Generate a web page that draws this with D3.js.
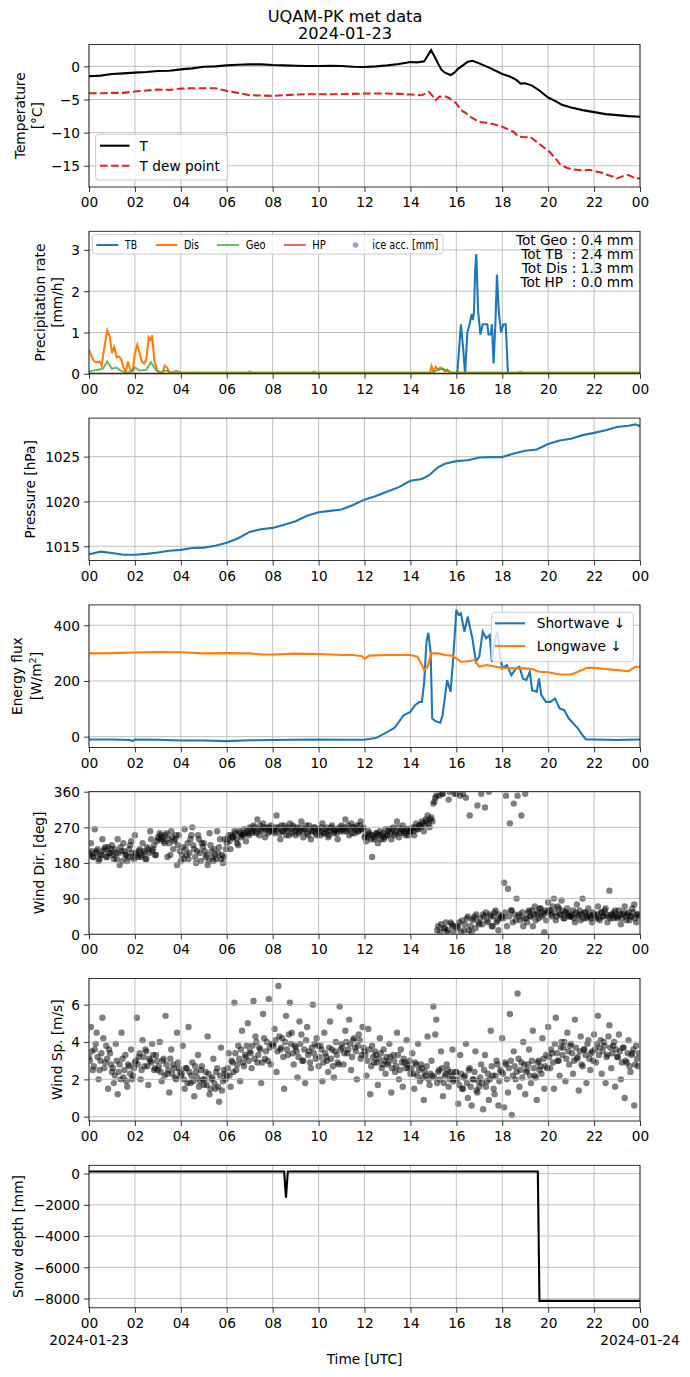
<!DOCTYPE html>
<html>
<head>
<meta charset="utf-8">
<script src="https://cdn.jsdelivr.net/npm/d3@7"></script>
<style>
  body { margin: 0; background: #fff; }
  svg { font-family: "DejaVu Sans", sans-serif; }
</style>
</head>
<body>
<svg width="690" height="1377"></svg>
<script>
// ---- données (heure UTC, valeur) ----
const tAir = [[0,-1.5],[0.5,-1.4],[1,-1.15],[1.5,-1.05],[2,-0.95],[2.5,-0.85],[3,-0.7],[3.5,-0.65],[4,-0.45],[4.5,-0.3],[5,-0.05],[5.5,0.0],[6,0.15],[6.5,0.25],[7,0.3],[7.5,0.3],[8,0.2],[8.5,0.15],[9,0.1],[9.5,0.05],[10,0.05],[10.5,0.1],[11,0.05],[11.5,-0.05],[12,-0.1],[12.5,0.0],[13,0.15],[13.5,0.35],[14,0.65],[14.3,0.6],[14.6,0.75],[14.75,1.6],[14.9,2.45],[15.05,1.5],[15.2,0.45],[15.35,-0.5],[15.5,-0.95],[15.75,-1.3],[15.9,-1.0],[16.1,-0.3],[16.3,0.2],[16.5,0.7],[16.7,0.85],[17,0.45],[17.5,-0.3],[18,-1.15],[18.3,-1.5],[18.6,-2.0],[18.8,-2.6],[19,-2.55],[19.3,-2.9],[19.6,-3.6],[20,-4.7],[20.3,-5.2],[20.6,-5.8],[21,-6.2],[21.5,-6.6],[22,-6.9],[22.5,-7.2],[23,-7.35],[23.5,-7.5],[24,-7.6]];
const tDew = [[0,-4.05],[0.5,-4.05],[1,-4.0],[1.5,-4.0],[2,-3.8],[2.5,-3.65],[3,-3.5],[3.5,-3.55],[4,-3.35],[4.5,-3.3],[5,-3.3],[5.5,-3.3],[6,-3.7],[6.5,-4.0],[7,-4.35],[7.5,-4.4],[8,-4.45],[8.5,-4.35],[9,-4.25],[9.5,-4.2],[10,-4.2],[11,-4.2],[12,-4.1],[13,-4.1],[13.5,-4.15],[14,-4.25],[14.5,-4.35],[14.8,-3.85],[15,-4.6],[15.1,-5.1],[15.25,-4.6],[15.5,-4.5],[15.7,-4.8],[16,-5.6],[16.2,-6.6],[16.4,-7.0],[16.6,-7.6],[16.8,-8.0],[17,-8.4],[17.3,-8.5],[17.6,-8.7],[18,-9.1],[18.5,-9.9],[18.7,-10.6],[19,-10.7],[19.2,-10.6],[19.5,-11.4],[19.8,-12.2],[20,-12.7],[20.3,-13.8],[20.5,-14.7],[20.8,-15.3],[21,-15.5],[21.5,-15.7],[21.8,-15.6],[22,-15.8],[22.3,-16.0],[22.5,-16.3],[22.8,-16.6],[23,-16.9],[23.3,-16.5],[23.5,-16.4],[23.8,-16.9],[24,-16.9]];

const tbRate = [[0,0],[16.04,0],[16.2,1.2],[16.3,0.6],[16.38,0],[16.48,1.0],[16.58,1.2],[16.67,1.45],[16.72,1.3],[16.77,1.5],[16.82,2.5],[16.87,2.9],[16.95,1.5],[17.05,0.95],[17.15,1.2],[17.25,1.2],[17.35,1.2],[17.4,0.95],[17.5,0.95],[17.55,1.2],[17.62,0.25],[17.7,1.2],[17.77,2.4],[17.85,1.5],[17.95,1.0],[18.05,1.2],[18.15,1.2],[18.25,0],[24,0]];
const disRate = [[0,0.58],[0.1,0.45],[0.2,0.32],[0.3,0.28],[0.45,0.3],[0.55,0.2],[0.7,0.75],[0.8,1.05],[0.9,0.9],[1.0,0.5],[1.1,0.65],[1.2,0.4],[1.3,0.42],[1.4,0.35],[1.5,0.15],[1.6,0.05],[1.7,0.3],[1.8,0.1],[1.9,0.05],[2.0,0.5],[2.1,0.7],[2.2,0.5],[2.3,0.3],[2.4,0.25],[2.5,0.35],[2.6,0.88],[2.68,0.82],[2.75,0.93],[2.85,0.3],[3.0,0.05],[3.2,0.02],[3.3,0.2],[3.4,0.15],[3.5,0.02],[14.85,0.02],[14.92,0.18],[15.0,0.05],[15.1,0.17],[15.2,0.1],[15.3,0.15],[15.4,0.12],[15.5,0.05],[15.6,0.1],[15.7,0.02],[24,0.02]];
const geoRate = [[0,0.05],[0.2,0.08],[0.4,0.1],[0.6,0.12],[0.8,0.3],[1.0,0.12],[1.2,0.15],[1.4,0.07],[1.6,0.02],[1.8,0.05],[2.0,0.15],[2.2,0.08],[2.5,0.1],[2.7,0.28],[2.9,0.1],[3.1,0.02],[3.3,0.08],[3.6,0.04],[3.8,0.07],[4.0,0.03],[6.9,0.03],[7.0,0.06],[7.1,0.03],[9.7,0.03],[9.8,0.06],[9.9,0.03],[15.0,0.03],[15.2,0.1],[15.4,0.12],[15.6,0.08],[15.8,0.03],[18.7,0.03],[18.8,0.05],[18.9,0.03],[24,0.03]];
const hpRate = [[0,0],[24,0]];
const precipTotals = ["Tot Geo : 0.4 mm", "Tot TB  : 2.4 mm", "Tot Dis : 1.3 mm", "Tot HP  : 0.0 mm"];

const pressure = [[0,1014.1],[0.5,1014.4],[1,1014.25],[1.5,1014.05],[2,1014.05],[2.5,1014.15],[3,1014.3],[3.5,1014.5],[4,1014.6],[4.5,1014.8],[5,1014.85],[5.5,1015.05],[6,1015.4],[6.5,1015.9],[7,1016.6],[7.5,1016.9],[8,1017.05],[8.5,1017.4],[9,1017.8],[9.5,1018.4],[10,1018.8],[10.5,1018.95],[11,1019.1],[11.5,1019.6],[12,1020.2],[12.5,1020.6],[13,1021.1],[13.5,1021.6],[14,1022.3],[14.5,1022.5],[14.8,1022.9],[15.2,1023.8],[15.5,1024.2],[16,1024.5],[16.5,1024.6],[17,1024.9],[17.5,1024.95],[18,1024.95],[18.5,1025.35],[19,1025.65],[19.5,1025.8],[20,1026.4],[20.5,1026.8],[21,1027.0],[21.5,1027.4],[22,1027.65],[22.5,1027.95],[23,1028.3],[23.5,1028.45],[23.8,1028.6],[24,1028.4]];

const shortwave = [[0,-10],[1,-10],[1.8,-12],[1.9,-16],[2,-10],[3,-11],[4,-14],[5,-14],[6,-16],[7,-13],[8,-12],[9,-11],[10,-10],[11,-11],[12,-11],[12.5,-5],[13,17],[13.3,31],[13.5,53],[13.7,77],[14,89],[14.2,113],[14.4,125],[14.5,125],[14.6,197],[14.7,341],[14.78,373],[14.88,305],[14.95,65],[15.1,55],[15.3,50],[15.4,77],[15.6,203],[15.75,161],[15.85,267],[15.95,389],[16.0,455],[16.1,437],[16.2,443],[16.35,377],[16.5,431],[16.6,389],[16.7,353],[16.85,269],[17.0,287],[17.15,377],[17.3,353],[17.45,365],[17.55,269],[17.7,353],[17.8,377],[17.9,293],[18.0,245],[18.2,257],[18.4,221],[18.6,245],[18.75,251],[18.9,209],[19.05,203],[19.2,233],[19.3,167],[19.5,161],[19.6,209],[19.7,149],[19.9,125],[20.1,125],[20.3,137],[20.5,101],[20.7,95],[20.9,65],[21.1,47],[21.3,29],[21.5,5],[21.65,-10],[22,-10],[23,-12],[24,-10]];
const longwave = [[0,299],[1,300],[2,302],[3,304],[4,303],[5,299],[6,300],[7,299],[7.5,295],[8,295],[9,298],[10,297],[11,293],[11.5,293],[11.9,289],[12.0,279],[12.2,291],[13,293],[14,293],[14.3,287],[14.5,257],[14.6,239],[14.75,251],[14.9,299],[15.2,299],[15.5,293],[15.8,291],[16.0,281],[16.2,269],[16.5,271],[16.8,275],[17.0,251],[17.3,257],[17.6,253],[18,247],[18.5,245],[19,245],[19.3,243],[19.6,233],[20,231],[20.5,223],[21,223],[21.3,233],[21.7,247],[22,247],[22.5,243],[23,239],[23.5,235],[23.8,251],[24,251]];

// vent : 12 mesures par heure, deux séries décalées de 2.5 min
const windDir = [
  205,230,195,265,210,185,200,240,215,195,220,205,
  225,190,205,240,175,210,230,200,185,215,235,195,
  250,200,210,195,230,205,190,215,260,210,225,200,
  245,255,240,235,250,195,230,260,215,240,175,250,
  185,220,265,200,190,240,270,215,180,250,205,230,
  230,195,175,255,210,185,200,260,220,190,180,240,
  230,250,215,245,260,240,225,255,250,265,235,255,
  270,255,275,260,290,250,265,280,245,270,260,275,
  265,255,300,270,240,260,275,250,265,280,255,270,
  250,270,260,285,245,265,255,275,240,260,270,250,
  265,250,280,255,270,245,260,275,255,265,240,270,
  275,260,290,265,250,280,270,255,275,260,285,265,
  245,235,260,250,195,240,255,230,260,250,240,265,
  250,265,240,270,255,285,245,260,275,255,265,250,
  260,270,250,280,265,275,285,260,290,300,270,295,
  330,345,10,350,25,355,15,5,340,30,20,355,
  355,20,350,35,10,345,45,300,5,40,15,325,
  25,355,50,320,35,360,45,20,55,30,10,40,
  45,130,350,115,280,60,330,35,350,50,300,20,
  355,30,60,45,20,70,50,40,65,55,5,35,
  80,60,45,90,35,70,50,85,40,55,65,45,
  45,60,30,75,50,35,90,55,40,65,45,30,
  50,40,70,35,55,45,65,30,110,50,40,60,
  40,60,25,50,70,35,55,45,65,75,30,50
];
const windDir2 = [
  200,210,195,205,215,190,200,210,220,195,205,215,
  200,215,190,205,220,185,210,200,195,225,205,190,
  205,195,215,200,210,190,220,205,240,215,200,235,
  240,250,245,230,255,240,200,245,235,250,225,210,
  200,190,215,230,205,250,225,195,210,240,185,220,
  210,200,185,225,195,215,190,205,240,200,195,215,
  240,235,250,245,255,230,260,245,250,255,260,250,
  265,260,270,255,265,275,260,270,265,255,270,260,
  260,270,265,255,275,260,265,270,250,265,275,260,
  265,255,270,260,265,275,250,265,260,270,255,265,
  260,270,255,265,260,250,270,265,260,255,265,260,
  265,270,260,275,265,255,270,265,260,275,265,270,
  250,245,255,240,250,245,255,250,240,255,245,250,
  260,255,265,250,260,270,255,265,260,250,265,260,
  265,260,270,265,275,270,280,275,285,280,290,285,
  335,350,20,5,355,15,30,10,360,25,5,20,
  15,30,5,355,25,40,10,20,35,45,50,30,
  40,25,45,55,30,50,20,45,60,35,50,45,
  40,55,20,45,60,30,50,90,45,35,55,40,
  40,55,45,60,50,35,55,65,45,50,60,55,
  60,50,70,55,45,65,50,60,40,55,50,45,
  50,40,55,45,60,50,40,55,45,50,40,55,
  45,50,40,55,45,60,50,45,40,50,55,45,
  45,50,40,55,45,50,35,45,55,40,50,45
];
const windSpeed = [
  3.2,4.8,2.5,3.6,4.5,2.0,3.0,5.3,2.6,3.8,1.5,3.4,
  2.4,1.8,3.9,1.2,2.8,4.5,2.1,3.3,1.6,2.7,3.6,2.2,
  2.9,5.3,3.2,2.0,4.1,2.7,3.5,1.7,3.0,3.9,2.5,3.3,
  2.5,4.0,1.9,3.1,5.4,2.3,1.3,3.6,2.8,2.1,4.5,2.6,
  2.2,3.8,1.5,2.6,4.8,1.8,2.9,1.1,2.4,3.3,1.9,2.7,
  1.7,2.4,4.3,1.2,2.0,3.1,1.5,2.6,0.8,3.7,1.9,2.3,
  2.2,3.4,1.6,2.9,6.1,2.5,3.8,1.9,4.6,2.7,3.2,5.0,
  3.5,2.6,6.2,4.3,2.9,3.7,1.8,5.5,3.1,4.0,6.3,2.8,
  3.9,4.7,2.4,7.0,3.6,4.2,1.5,5.4,3.3,6.1,4.5,2.8,
  3.7,2.1,5.1,4.4,3.0,1.8,4.8,3.5,2.6,6.0,3.9,4.2,
  2.7,3.8,1.9,4.5,3.2,2.4,5.1,3.6,2.1,4.0,2.9,5.9,
  3.9,2.8,4.6,3.4,5.2,2.5,4.1,3.7,2.0,4.4,3.1,4.8,
  3.5,2.2,4.7,1.2,3.8,2.9,3.3,1.7,4.2,2.6,3.6,2.3,
  2.8,3.9,1.3,3.3,2.4,4.5,2.0,3.6,1.6,2.9,4.1,2.6,
  2.3,3.4,1.5,2.8,3.9,1.9,2.6,0.9,2.2,4.3,1.7,3.0,
  5.9,4.4,1.8,2.5,3.5,1.1,2.2,2.8,1.6,2.4,3.6,2.0,
  2.4,0.7,3.3,1.5,2.1,3.9,1.0,2.6,0.6,2.0,3.5,1.3,
  1.6,2.8,0.4,3.3,1.9,0.9,4.6,2.2,1.2,3.0,0.6,2.5,
  4.2,0.5,2.8,1.3,5.5,0.1,3.5,2.0,6.6,1.6,2.9,4.0,
  1.2,2.5,3.6,1.8,4.6,2.2,0.9,3.0,2.7,4.2,1.5,3.3,
  4.8,2.6,3.4,1.5,5.3,3.0,2.2,4.0,3.7,1.9,4.5,2.8,
  3.9,2.3,5.2,3.1,1.4,4.3,2.7,3.6,1.8,4.1,2.5,3.5,
  4.4,2.9,5.4,3.7,2.3,4.0,1.8,3.3,4.9,2.6,3.8,1.6,
  3.2,4.4,2.0,3.7,1.0,2.9,4.1,2.4,3.4,0.6,3.8,2.7
];
const windSpeed2 = [
  3.0,3.5,2.7,3.9,3.2,2.5,3.4,4.2,2.9,3.1,3.6,2.8,
  2.6,2.2,3.0,2.4,2.0,3.1,2.5,1.9,2.8,2.3,2.0,2.6,
  3.0,2.8,3.4,2.5,3.2,3.6,2.7,3.1,2.9,3.3,2.6,3.0,
  2.7,2.4,3.0,2.2,2.8,2.5,3.1,2.3,2.6,2.0,2.9,2.4,
  2.3,2.0,2.6,1.8,2.4,2.2,1.9,2.7,2.1,1.6,2.5,2.0,
  2.0,1.7,2.3,1.5,2.1,1.8,2.4,1.6,2.2,1.4,2.5,2.0,
  2.6,2.2,3.0,2.4,3.4,2.8,3.1,3.6,2.9,3.3,3.8,3.0,
  3.4,3.8,3.1,4.0,3.3,3.6,2.9,4.2,3.5,3.0,3.7,3.9,
  3.8,4.1,3.5,4.3,3.7,3.2,4.0,3.6,4.4,3.9,3.4,3.8,
  3.5,3.2,3.9,3.0,3.6,4.1,3.3,2.9,3.7,3.4,3.1,3.8,
  3.2,3.6,2.9,3.4,3.0,3.7,3.1,2.7,3.5,3.3,2.8,3.6,
  3.7,3.4,4.0,3.6,3.9,3.2,4.2,3.5,3.8,4.1,3.3,3.7,
  3.3,3.0,3.6,2.7,3.2,3.5,2.9,3.1,3.4,2.8,3.0,3.2,
  2.9,3.2,2.6,3.0,2.7,3.3,2.5,2.9,3.1,2.6,2.8,3.0,
  2.6,2.3,2.9,2.2,2.5,2.8,2.1,2.4,2.7,2.0,2.3,2.2,
  2.1,5.2,2.4,2.0,2.6,1.8,2.3,2.5,2.0,2.2,1.9,2.4,
  2.0,1.7,2.3,1.5,2.2,1.8,2.5,1.6,2.0,2.4,1.4,1.9,
  2.1,1.8,2.5,1.6,2.3,2.0,2.7,1.5,2.2,2.8,1.9,2.4,
  2.3,2.9,2.0,2.6,3.0,2.2,2.7,2.4,3.1,2.5,2.1,2.8,
  2.4,2.8,2.2,3.0,2.6,2.1,2.9,2.5,2.3,3.1,2.7,2.6,
  3.2,3.6,2.9,3.9,3.4,3.0,3.7,3.3,4.0,3.1,3.5,3.8,
  3.4,3.0,3.7,3.2,3.5,2.8,3.6,3.3,3.9,3.1,3.4,3.0,
  3.6,3.9,3.3,4.1,3.5,3.8,3.2,4.3,3.7,3.4,4.0,3.6,
  3.2,3.5,2.9,3.7,3.0,3.4,2.7,3.3,3.6,2.8,3.1,3.4
];

const snowDepth = [[0,130],[8.5,130],[8.58,-1550],[8.66,130],[19.55,130],[19.62,-8150],[24,-8150]];

// ticks
const hourTicks = d3.range(0, 25, 2);
const tempTicks = [-15, -10, -5, 0];
const precipTicks = [0, 1, 2, 3];
const pressTicks = [1015, 1020, 1025];
const fluxTicks = [0, 200, 400];
const dirTicks = [0, 90, 180, 270, 360];
const speedTicks = [0, 2, 4, 6];
const snowTicks = [0, -2000, -4000, -6000, -8000];

// ---- mise en page ----
const svg = d3.select("svg");
const X0 = 89, X1 = 640;
const TOP0 = 44.5, STEP = 186.8, PH = 142.5;
const FS = 13.7;
const C = { blue: "#1f77b4", orange: "#ff7f0e", green: "#2ca02c", red: "#d62728", purple: "#9467bd" };

const x = d3.scaleLinear().domain([0, 24]).range([X0, X1]);
const fmtNum = d3.format("d");
const hourFmt = d => String(d % 24).padStart(2, "0");

function makePanel(i, dom, ticks, labels, labelX) {
  const top = TOP0 + i * STEP, bot = top + PH;
  const y = d3.scaleLinear().domain(dom).range([bot, top]);
  const g = svg.append("g");
  const clipId = "clip" + i;
  svg.append("clipPath").attr("id", clipId)
    .append("rect").attr("x", X0).attr("y", top).attr("width", X1 - X0).attr("height", PH);

  const grid = g.append("g").attr("stroke", "#b0b0b0").attr("stroke-width", 0.8);
  grid.selectAll(".vx").data(hourTicks).join("line")
    .attr("x1", d => x(d)).attr("x2", d => x(d)).attr("y1", top).attr("y2", bot);
  grid.selectAll(".hy").data(ticks).join("line")
    .attr("x1", X0).attr("x2", X1).attr("y1", d => y(d)).attr("y2", d => y(d));

  const plot = g.append("g").attr("clip-path", `url(#${clipId})`);

  // axes
  const ax = g.append("g").attr("transform", `translate(${X0},0)`)
    .call(d3.axisLeft(y).tickValues(ticks).tickSize(5).tickPadding(4).tickFormat(fmtNum));
  const bx = g.append("g").attr("transform", `translate(0,${bot})`)
    .call(d3.axisBottom(x).tickValues(hourTicks).tickSize(5).tickPadding(5).tickFormat(hourFmt));
  [ax, bx].forEach(a => {
    a.select(".domain").remove();
    a.selectAll("line").attr("stroke", "#000").attr("stroke-width", 0.8);
    a.selectAll("text").attr("font-size", FS).attr("font-family", "DejaVu Sans").attr("fill", "#000");
  });
  ax.selectAll("text").attr("dy", "0.36em");
  bx.selectAll("text").attr("dy", "0.75em");

  const frame = g.append("rect").attr("x", X0).attr("y", top).attr("width", X1 - X0).attr("height", PH)
    .attr("fill", "none").attr("stroke", "#000").attr("stroke-width", 0.8);

  // étiquette Y
  const cy = (top + bot) / 2;
  labels.forEach((lab, k) => {
    const t = g.append("text").attr("transform", `translate(${labelX[k]},${cy}) rotate(-90)`)
      .attr("text-anchor", "middle").attr("dy", "0.36em").attr("font-size", FS);
    if (Array.isArray(lab)) {
      t.append("tspan").text(lab[0]);
      t.append("tspan").attr("baseline-shift", "super").attr("font-size", FS * 0.7).text(lab[1]);
      t.append("tspan").text(lab[2]);
    } else t.text(lab);
  });
  return { g, plot, y, top, bot, grid, frame };
}

const lineOf = y => d3.line().x(d => x(d[0])).y(d => y(d[1]));

function drawLegend(g, box, items, fs, textLens) {
  g.append("rect").attr("x", box[0]).attr("y", box[1]).attr("width", box[2]).attr("height", box[3])
    .attr("rx", 3).attr("fill", "#fff").attr("fill-opacity", 0.8).attr("stroke", "#ccc").attr("stroke-width", 1);
  items.forEach((it, k) => {
    if (it.dot) {
      g.append("circle").attr("cx", (it.x0 + it.x1) / 2).attr("cy", it.y).attr("r", 2.8)
        .attr("fill", it.color).attr("fill-opacity", 0.7);
    } else {
      g.append("line").attr("x1", it.x0).attr("x2", it.x1).attr("y1", it.y).attr("y2", it.y)
        .attr("stroke", it.color).attr("stroke-width", 2.1).attr("stroke-opacity", it.alpha || 1)
        .attr("stroke-dasharray", it.dash || null);
    }
    const t = g.append("text").attr("x", it.tx).attr("y", it.y).attr("dy", "0.36em")
      .attr("font-size", fs).text(it.label);
    if (textLens) t.attr("textLength", textLens[k]).attr("lengthAdjust", "spacingAndGlyphs");
  });
}

// titre
svg.append("text").attr("x", 345).attr("y", 22).attr("text-anchor", "middle").attr("font-size", 16.2).text("UQAM-PK met data");
svg.append("text").attr("x", 345).attr("y", 39).attr("text-anchor", "middle").attr("font-size", 16.2).text("2024-01-23");

// 1. température
const p1 = makePanel(0, [-18.2, 3.3], tempTicks, ["Temperature", "[°C]"], [20, 37]);
p1.plot.append("path").datum(tAir).attr("d", lineOf(p1.y)).attr("fill", "none").attr("stroke", "#000").attr("stroke-width", 2.1);
p1.plot.append("path").datum(tDew).attr("d", lineOf(p1.y)).attr("fill", "none").attr("stroke", C.red).attr("stroke-width", 2.1).attr("stroke-dasharray", "7.7,3.3");
drawLegend(p1.g, [95.6, 134.3, 132, 45.7], [
  { x0: 100, x1: 129.5, y: 145.7, tx: 139.6, color: "#000", label: "T" },
  { x0: 100, x1: 129.5, y: 165.7, tx: 139.6, color: C.red, dash: "7.7,3.3", label: "T dew point" }
], FS);

// 2. précipitations
const p2 = makePanel(1, [0, 3.45], precipTicks, ["Precipitation rate", "[mm/h]"], [40.5, 57]);
[[tbRate, C.blue, 1], [disRate, C.orange, 1], [geoRate, C.green, 0.7], [hpRate, C.red, 0.7]].forEach(([d, c, a]) => {
  p2.plot.append("path").datum(d).attr("d", lineOf(p2.y)).attr("fill", "none")
    .attr("stroke", c).attr("stroke-opacity", a).attr("stroke-width", 2.1);
});
drawLegend(p2.g, [92.3, 234.5, 350.7, 19.5], [
  { x0: 96.3, x1: 118.3, y: 245, tx: 125, color: C.blue, label: "TB" },
  { x0: 155.7, x1: 177.3, y: 245, tx: 184, color: C.orange, label: "Dis" },
  { x0: 217, x1: 239, y: 245, tx: 245.7, color: C.green, alpha: 0.7, label: "Geo" },
  { x0: 284, x1: 305.7, y: 245, tx: 312.3, color: C.red, alpha: 0.7, label: "HP" },
  { x0: 345, x1: 366, y: 245, tx: 372.3, color: C.purple, dot: true, label: "ice acc. [mm]" }
], 11.5, [12, 15, 20, 13.4, 66]);
p2.g.append("text").attr("text-anchor", "end").attr("font-size", FS).style("white-space", "pre")
  .selectAll("tspan").data(precipTotals).join("tspan")
  .attr("x", 633.5).attr("y", (d, k) => 240 + k * 13.9).attr("dy", "0.36em").text(d => d);

// 3. pression
const p3 = makePanel(2, [1013.4, 1029.3], pressTicks, ["Pressure [hPa]"], [30]);
p3.plot.append("path").datum(pressure).attr("d", lineOf(p3.y)).attr("fill", "none").attr("stroke", C.blue).attr("stroke-width", 2.1);

// 4. rayonnement
const p4 = makePanel(3, [-38.5, 473], fluxTicks, ["Energy flux", ["[W/m", "2", "]"]], [17, 36]);
p4.plot.append("path").datum(shortwave).attr("d", lineOf(p4.y)).attr("fill", "none").attr("stroke", C.blue).attr("stroke-width", 2.1);
p4.plot.append("path").datum(longwave).attr("d", lineOf(p4.y)).attr("fill", "none").attr("stroke", C.orange).attr("stroke-width", 2.1);
drawLegend(p4.g, [491.7, 612.3, 141.6, 49.4], [
  { x0: 495, x1: 525, y: 623.3, tx: 536.7, color: C.blue, label: "Shortwave \u2193" },
  { x0: 495, x1: 525, y: 646, tx: 536.7, color: C.orange, label: "Longwave \u2193" }
], FS);

// 5 & 6. vent (nuages de points, grille par-dessus comme matplotlib)
function scatterPanel(p, sets) {
  sets.forEach(([vals, off]) => {
    p.plot.append("g").selectAll("circle").data(vals).join("circle")
      .attr("cx", (d, k) => x((k + off) / 12)).attr("cy", d => p.y(d)).attr("r", 3.2)
      .attr("fill", "#000").attr("fill-opacity", 0.5);
  });
  p.grid.raise();
  p.frame.raise();
}
const p5 = makePanel(4, [0, 360], dirTicks, ["Wind Dir. [deg]"], [39]);
scatterPanel(p5, [[windDir, 0], [windDir2, 0.5]]);
const p6 = makePanel(5, [-0.23, 7.4], speedTicks, ["Wind Sp. [m/s]"], [57]);
scatterPanel(p6, [[windSpeed, 0], [windSpeed2, 0.5]]);

// 7. neige
const p7 = makePanel(6, [-8594, 530], snowTicks, ["Snow depth [mm]"], [18]);
p7.plot.append("path").datum(snowDepth).attr("d", lineOf(p7.y)).attr("fill", "none").attr("stroke", "#000").attr("stroke-width", 2.1);

// dates et titre de l'axe
svg.append("text").attr("x", X0).attr("y", 1345).attr("text-anchor", "middle").attr("font-size", FS).text("2024-01-23");
svg.append("text").attr("x", X1).attr("y", 1345).attr("text-anchor", "middle").attr("font-size", FS).text("2024-01-24");
svg.append("text").attr("x", (X0 + X1) / 2).attr("y", 1364).attr("text-anchor", "middle").attr("font-size", FS).text("Time [UTC]");
</script>
</body>
</html>
